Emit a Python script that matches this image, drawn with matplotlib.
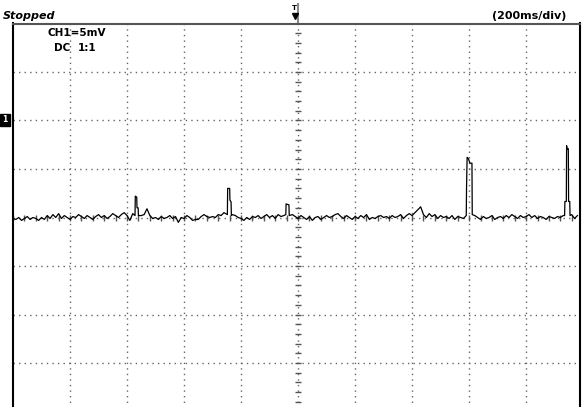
import numpy as np
import matplotlib.pyplot as plt

# scope settings: 200 ms/div, 5 mV/div
t_left, t_right = -1000, 989
v_top, v_bottom = 20, -20

# baseline trace, one value every 10 ms from -1000 to 990 (mV)
base_t = np.arange(-1000, 990, 10)
base_v = [
    -0.1, -0.2, 0.0, -0.3, -0.1, 0.1, -0.2, 0.0, -0.1, -0.3,
    0.0, -0.2, 0.2, -0.1, 0.3, 0.0, 0.4, -0.1, 0.2, 0.0,
    -0.2, 0.1, 0.0, 0.3, 0.1, -0.1, 0.2, 0.0, -0.2, 0.1,
    0.3, 0.0, 0.2, -0.1, 0.1, 0.4, 0.2, 0.0, 0.3, 0.5,
    0.2, -0.3, 0.4, 0.2, 0.2, 0.2, 0.3, 0.9, 0.2, -0.1,
    0.0, -0.2, 0.1, -0.1, 0.0, 0.2, -0.1, 0.1, -0.5, 0.0,
    -0.1, 0.2, 0.0, -0.3, -0.2, -0.2, 0.1, 0.3, 0.1, 0.0,
    0.1, 0.0, 0.3, 0.2, 0.5, 0.2, 0.2, 0.3, 0.2, 0.0,
    -0.1, -0.3, 0.0, -0.2, 0.1, 0.0, 0.2, -0.1, 0.1, 0.3,
    0.0, 0.2, -0.1, 0.3, 0.1, 0.2, 0.4, 0.2, 0.3, 0.1,
    -0.1, 0.2, 0.0, -0.2, 0.1, -0.3, 0.0, 0.1, -0.2, 0.0,
    0.2, 0.0, 0.1, 0.3, 0.4, 0.1, -0.1, 0.2, 0.0, -0.2,
    0.1, -0.1, 0.2, 0.0, 0.3, -0.2, 0.0, -0.1, 0.1, 0.2,
    0.0, 0.1, -0.1, 0.2, 0.0, 0.1, 0.3, -0.1, 0.2, 0.4,
    0.2, 0.5, 0.8, 1.1, 0.3, 0.0, 0.4, 0.1, 0.3, -0.1,
    0.2, 0.0, 0.1, -0.1, 0.2, -0.2, 0.1, 0.0, -0.1, 0.2,
    0.1, 0.1, 0.2, 0.0, -0.2, 0.1, -0.1, 0.0, 0.2, -0.2,
    0.0, 0.1, -0.1, 0.2, 0.0, 0.3, 0.1, -0.1, 0.2, 0.0,
    0.1, 0.3, 0.0, 0.2, -0.1, 0.1, 0.0, -0.2, 0.1, 0.0,
    -0.1, 0.1, 0.0, 0.2, 0.1, 0.1, 0.3, -0.1, 0.2,
]

# narrow pulses (ms, mV)
pulse_t = [
    [-572, -571, -566, -565, -561, -560],
    [-248, -247, -240, -239, -235, -234],
    [-43, -42, -32, -31],
    [590, 591, 593, 597, 603, 610, 611],
    [935, 936, 941, 942, 944, 948, 949, 953, 954],
]
pulse_v = [
    [0.2, 2.2, 2.1, 1.0, 1.0, 0.2],
    [0.3, 3.0, 3.0, 1.8, 1.6, 0.2],
    [0.3, 1.4, 1.3, 0.2],
    [0.2, 3.1, 6.2, 6.1, 5.6, 5.6, 0.3],
    [0.2, 1.65, 1.65, 7.4, 7.0, 7.1, 1.65, 1.65, 0.2],
]

keep = np.ones(len(base_t), bool)
for pt in pulse_t:
    keep &= ~((base_t >= pt[0] - 3) & (base_t <= pt[-1] + 3))
tt = np.concatenate([base_t[keep]] + [np.array(p) for p in pulse_t])
vv = np.concatenate([np.array(base_v)[keep]] + [np.array(p) for p in pulse_v])
order = np.argsort(tt, kind="stable")
tt, vv = tt[order], vv[order]

W, H = 583, 407
fig = plt.figure(figsize=(W / 100, H / 100), dpi=100)
ax = fig.add_axes([13 / W, 1 - 411.5 / H, 567 / W, 388 / H])
ax.set_xlim(t_left, t_right)
ax.set_ylim(v_bottom, v_top)

# graticule
ax.set_xticks(np.arange(-800, 989, 200))
ax.set_yticks(np.arange(-15, 20, 5))
ax.tick_params(length=0, labelbottom=False, labelleft=False)
ax.grid(True, color="#666666", linestyle=(0, (1, 3)), linewidth=1)
ax.plot(np.zeros(41), np.arange(-20, 21, 1), ls="none", marker="_", ms=4.5, mew=1, color="#555555")
ax.plot(np.arange(-1000, 990, 40), np.zeros(50), ls="none", marker="|", ms=4.5, mew=1, color="#555555")

for s in ["left", "right"]:
    ax.spines[s].set_linewidth(1.5)
    ax.spines[s].set_color("black")
ax.spines["top"].set_linewidth(1.5)
ax.spines["top"].set_color("#555555")
ax.spines["bottom"].set_visible(False)

# trace
ax.plot(tt, vv, color="black", lw=0.9)

# trigger marker
ax.plot([0, 0], [20, 22.0], color="#888888", lw=1.5, clip_on=False)
ax.plot([-12], [20.8], marker="v", ms=4, color="black", clip_on=False)
ax.text(-14, 21.6, "T", fontsize=5, fontweight="bold", ha="center", va="center")

# labels
fig.text(3 / W, 1 - 19 / H, "Stopped", fontsize=8, fontweight="bold", style="italic")
fig.text(566 / W, 1 - 19 / H, "(200ms/div)", fontsize=8, fontweight="bold", ha="right")
fig.text(47 / W, 1 - 36 / H, "CH1=5mV", fontsize=7.5, fontweight="bold")
fig.text(54 / W, 1 - 51 / H, "DC", fontsize=7.5, fontweight="bold")
fig.text(78 / W, 1 - 51 / H, "1:1", fontsize=7.5, fontweight="bold")

# channel ground marker
fig.text(5 / W, 1 - 120 / H, "1", fontsize=5.5, fontweight="bold", color="white",
         ha="center", va="center", bbox=dict(boxstyle="square,pad=0.25", fc="black", ec="black"))

fig.savefig("out.png", dpi=100)
